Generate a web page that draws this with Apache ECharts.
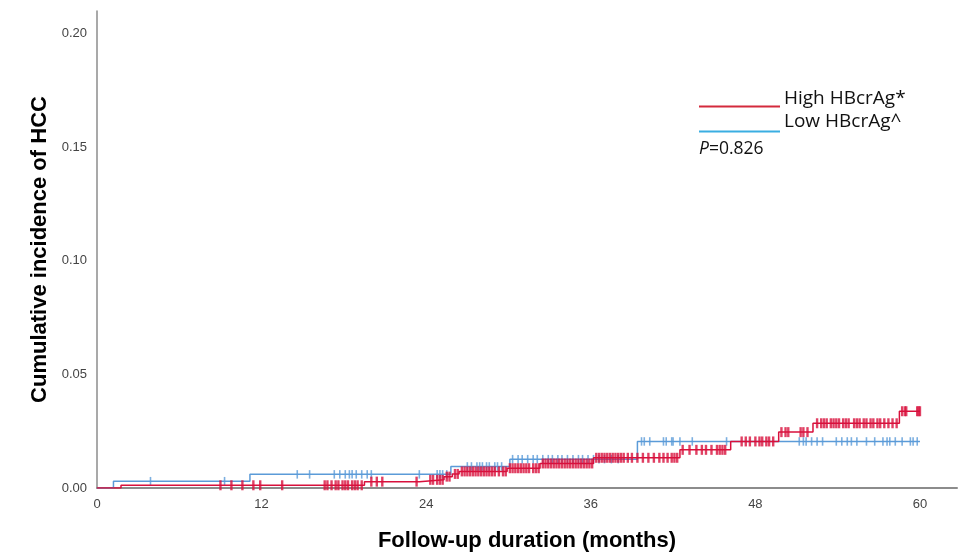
<!DOCTYPE html>
<html>
<head>
<meta charset="utf-8">
<script src="https://cdn.jsdelivr.net/npm/echarts@6/dist/echarts.min.js"></script>
<style>
  html, body { margin: 0; padding: 0; background: #fff; }
  #chart { width: 967px; height: 557px; }
</style>
</head>
<body>
<div id="chart"></div>
<script>
// Kaplan-Meier style cumulative incidence steps: [month, cumulative incidence]
const highSteps = [
  [0, 0], [1.75, 0.0012], [19.5, 0.0028], [23.5, 0.0036], [25.3, 0.0050],
  [25.9, 0.0062], [26.4, 0.0073], [29.9, 0.0087], [32.3, 0.0108], [36.2, 0.0133],
  [42.5, 0.0168], [46.2, 0.0205], [49.7, 0.0246], [52.2, 0.0285], [58.5, 0.0338],
  [60, 0.0338]
];
const lowSteps = [
  [0, 0], [1.2, 0.0030], [11.15, 0.0060], [25.8, 0.0095], [30.1, 0.0127],
  [39.4, 0.0205], [60, 0.0205]
];

// Censoring times (months)
const highCensored = [
  9.0, 9.8, 10.6, 11.4, 11.9, 13.5, 16.6, 16.8, 17.1, 17.4, 17.6, 17.9, 18.1, 18.3,
  18.6, 18.8, 19.0, 19.3,
  20.0, 20.4, 20.8, 23.3,
  24.3, 24.5, 24.8, 25.0, 25.2,
  25.5, 25.7, 26.1, 26.3,
  26.6, 26.8, 27.0, 27.2, 27.4, 27.6, 27.8, 28.0, 28.2, 28.4, 28.6, 28.8, 29.0, 29.3, 29.6, 29.8,
  30.1, 30.3, 30.5, 30.7, 30.9, 31.1, 31.3, 31.5, 31.8, 32.0, 32.2,
  32.5, 32.7, 32.9, 33.1, 33.3, 33.5, 33.7, 33.9, 34.1, 34.3, 34.5, 34.7, 34.9, 35.1,
  35.3, 35.5, 35.7, 35.9, 36.1,
  36.4, 36.6, 36.8, 37.0, 37.2, 37.4, 37.6, 37.8, 38.0, 38.2, 38.4, 38.7, 39.0, 39.4,
  39.8, 40.2, 40.6, 41.0, 41.3, 41.6, 41.9, 42.1, 42.3,
  42.7, 43.2, 43.7, 44.1, 44.4, 44.8, 45.2, 45.4, 45.6, 45.8,
  47.0, 47.3, 47.6, 48.0, 48.3, 48.5, 48.8, 49.0, 49.3,
  49.9, 50.2, 50.4, 51.3, 51.5, 51.8,
  52.5, 52.8, 53.0, 53.2, 53.5, 53.7, 53.9, 54.1, 54.4, 54.6, 54.8, 55.2, 55.4, 55.6,
  55.9, 56.1, 56.4, 56.6, 56.9, 57.1, 57.4, 57.7, 58.0, 58.3,
  58.7, 58.9, 59.0, 59.8, 59.9, 60.0
];
const lowCensored = [
  3.9, 9.3, 14.6, 15.5, 17.3, 17.7, 18.1, 18.4, 18.6, 18.9, 19.3, 19.7, 20.0,
  23.5, 24.8, 25.0, 25.2, 25.5,
  27.0, 27.3, 27.7, 27.9, 28.1, 28.4, 28.6, 29.0, 29.2, 29.5,
  30.3, 30.7, 31.0, 31.4, 31.8, 32.1, 32.5, 32.9, 33.2, 33.6, 33.9, 34.3, 34.7, 35.1,
  35.4, 35.8, 36.2, 36.6, 37.0, 37.5, 38.0,
  39.7, 39.9, 40.3, 41.3, 41.5, 41.9, 42.0, 42.5, 43.4, 45.9,
  51.2, 51.5, 51.7, 52.1, 52.5, 52.9, 53.9, 54.3, 54.7, 55.0, 55.4, 56.1, 56.7,
  57.3, 57.6, 57.8, 58.2, 58.7, 59.3, 59.5, 59.8
];

const xTicks = [0, 12, 24, 36, 48, 60];
const yTicks = [0, 0.05, 0.10, 0.15, 0.20];

const legendNames = ['High HBcrAg*', 'Low HBcrAg^'];
const pValueText = '0.826';

const RED = '#d8103c';
const BLUE = '#5b9bd8';

// value of a step curve at time t (last step at or before t)
function stepValue(steps, t) {
  let v = 0;
  for (const [s, y] of steps) { if (s <= t) v = y; else break; }
  return v;
}
const censorPoints = (steps, times) => times.map(t => [t, stepValue(steps, t)]);

const chart = echarts.init(document.getElementById('chart'));
chart.setOption({
  animation: false,
  backgroundColor: '#fff',
  grid: { left: 97, right: 10, top: 11, bottom: 60, containLabel: false },
  xAxis: {
    type: 'value', min: 0, max: 62.7, interval: 12,
    name: 'Follow-up duration (months)', nameLocation: 'middle', nameGap: 42,
    nameTextStyle: { fontFamily: 'Liberation Sans', fontWeight: 'bold', fontSize: 22, color: '#000' },
    axisLine: { show: true, lineStyle: { color: '#8c8c8c', width: 2 } },
    axisTick: { show: false },
    splitLine: { show: false },
    axisLabel: {
      showMaxLabel: false, margin: 10,
      fontFamily: 'Liberation Sans', fontSize: 13, color: '#444',
      formatter: v => xTicks.includes(v) ? String(v) : ''
    }
  },
  yAxis: {
    type: 'value', min: 0, max: 0.21, interval: 0.05,
    name: 'Cumulative incidence of HCC', nameLocation: 'middle', nameGap: 46,
    nameTextStyle: { fontFamily: 'Liberation Sans', fontWeight: 'bold', fontSize: 22, color: '#000' },
    axisLine: { show: true, lineStyle: { color: '#8c8c8c', width: 1.5 } },
    axisTick: { show: false },
    splitLine: { show: false },
    axisLabel: {
      showMaxLabel: false, margin: 10,
      fontFamily: 'Liberation Sans', fontSize: 13, color: '#444',
      formatter: v => yTicks.some(t => Math.abs(t - v) < 1e-9) ? v.toFixed(2) : ''
    }
  },
  series: [
    {
      name: legendNames[1], type: 'line', step: 'end', data: lowSteps,
      showSymbol: false, lineStyle: { color: BLUE, width: 1.5 }, z: 2
    },
    {
      name: legendNames[1] + ' censored', type: 'scatter', data: censorPoints(lowSteps, lowCensored),
      symbol: 'rect', symbolSize: [1.6, 8.5], itemStyle: { color: BLUE }, z: 3
    },
    {
      name: legendNames[0], type: 'line', step: 'end', data: highSteps,
      showSymbol: false, lineStyle: { color: RED, width: 1.5 }, z: 4
    },
    {
      name: legendNames[0] + ' censored', type: 'scatter', data: censorPoints(highSteps, highCensored),
      symbol: 'rect', symbolSize: [2.4, 10], itemStyle: { color: RED }, z: 5
    }
  ],
  graphic: [
    { type: 'line', shape: { x1: 699, y1: 106.5, x2: 780, y2: 106.5 }, style: { stroke: '#d42a3c', lineWidth: 2 } },
    { type: 'line', shape: { x1: 699, y1: 131.5, x2: 780, y2: 131.5 }, style: { stroke: '#3aaee2', lineWidth: 2 } },
    { type: 'text', left: 784, top: 89, style: { text: legendNames[0], font: '19px "Open Sans"', fill: '#111' } },
    { type: 'text', left: 784, top: 112, style: { text: legendNames[1], font: '19px "Open Sans"', fill: '#111' } },
    { type: 'text', left: 699, top: 140, style: { text: '{i|P}=' + pValueText, font: '17.5px "Open Sans"', fill: '#111',
      rich: { i: { fontStyle: 'italic', fontFamily: 'Open Sans', fontSize: 17.5, fill: '#111' } } } }
  ]
});
</script>
</body>
</html>
